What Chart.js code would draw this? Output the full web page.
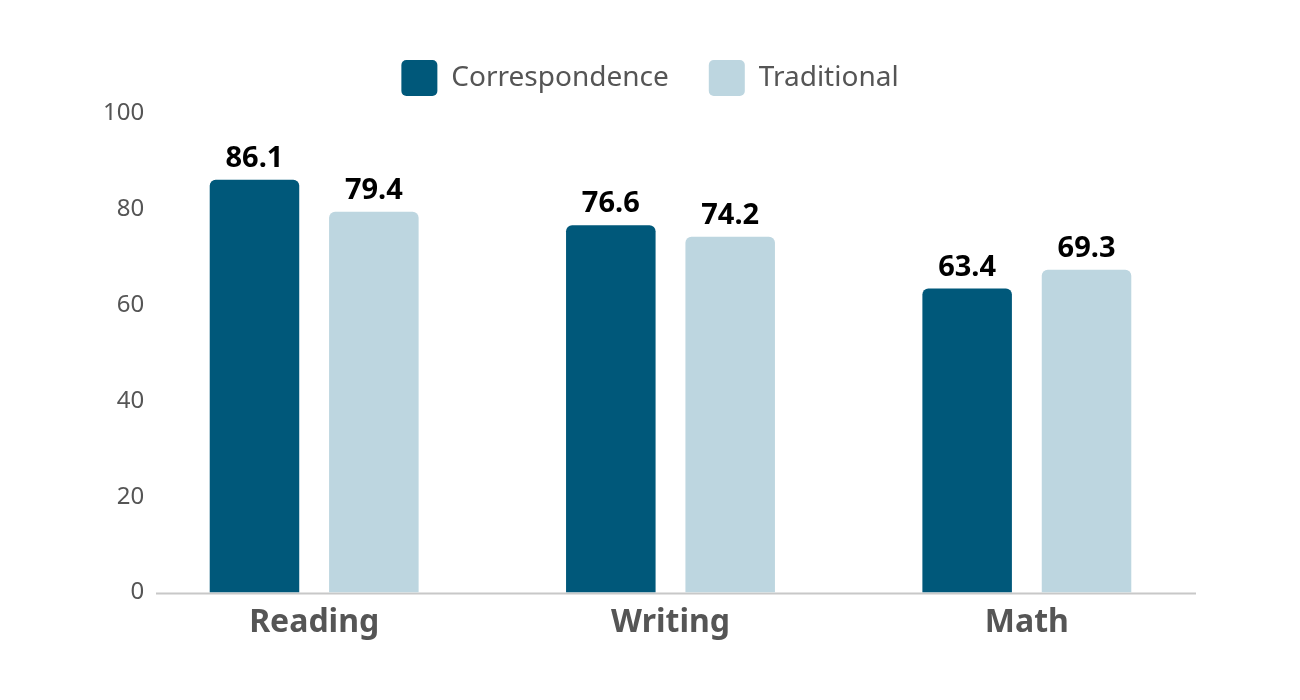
<!DOCTYPE html>
<html>
<head>
<meta charset="utf-8">
<script src="https://cdn.jsdelivr.net/npm/chart.js@4.4.0/dist/chart.umd.min.js"></script>
<style>
  body { margin: 0; background: #fff; }
  #wrap { width: 1300px; height: 700px; }
</style>
</head>
<body>
<div id="wrap"><canvas id="chart"></canvas></div>
<script>
// data
const categories = ['Reading', 'Writing', 'Math'];
const correspondence = [86.1, 76.6, 63.4];
const traditional = [79.4, 74.2, 67.3];
const correspondenceLabels = ['86.1', '76.6', '63.4'];
const traditionalLabels = ['79.4', '74.2', '69.3'];

const darkBlue = 'rgb(0, 88, 122)';
const lightBlue = 'rgb(189, 214, 224)';
const grey = '#555555';

// value labels above each bar
const valueLabels = {
  id: 'valueLabels',
  afterDatasetsDraw(chart) {
    const ctx = chart.ctx;
    const texts = [correspondenceLabels, traditionalLabels];
    ctx.save();
    ctx.font = 'bold 29px "Noto Sans"';
    ctx.fillStyle = '#000';
    ctx.textAlign = 'center';
    ctx.textBaseline = 'alphabetic';
    chart.data.datasets.forEach((ds, i) => {
      chart.getDatasetMeta(i).data.forEach((bar, j) => {
        ctx.fillText(texts[i][j], bar.x, bar.y - 13);
      });
    });
    ctx.restore();
  }
};

// baseline under the bars
const baseline = {
  id: 'baseline',
  beforeDatasetsDraw(chart) {
    const ctx = chart.ctx;
    const y = chart.scales.y.getPixelForValue(0);
    const a = chart.chartArea;
    ctx.save();
    ctx.strokeStyle = 'rgb(200, 200, 200)';
    ctx.lineWidth = 2;
    ctx.beginPath();
    ctx.moveTo(a.left + 20, y + 1);
    ctx.lineTo(a.right - 9, y + 1);
    ctx.stroke();
    ctx.restore();
  }
};

// a bit more room under the legend
const legendHeight = {
  id: 'legendHeight',
  beforeInit(chart) {
    const fit = chart.legend.fit;
    chart.legend.fit = function () {
      fit.bind(chart.legend)();
      this.height += 7;
    };
  }
};

const ctx = document.getElementById('chart').getContext('2d');
new Chart(ctx, {
  type: 'bar',
  data: {
    labels: categories,
    datasets: [
      {
        label: 'Correspondence',
        data: correspondence,
        backgroundColor: darkBlue,
        borderRadius: 6,
        categoryPercentage: 0.67,
        barPercentage: 0.75
      },
      {
        label: 'Traditional',
        data: traditional,
        backgroundColor: lightBlue,
        borderRadius: 6,
        categoryPercentage: 0.67,
        barPercentage: 0.75
      }
    ]
  },
  options: {
    responsive: true,
    maintainAspectRatio: false,
    animation: false,
    layout: { padding: { top: 20, left: 95, right: 95, bottom: 47 } },
    plugins: {
      legend: {
        position: 'top',
        labels: {
          boxWidth: 36,
          boxHeight: 36,
          padding: 40,
          useBorderRadius: true,
          borderRadius: 5,
          color: grey,
          font: { family: 'Noto Sans', size: 28 }
        }
      },
      tooltip: { enabled: false }
    },
    scales: {
      x: {
        grid: { display: false, drawTicks: false },
        border: { display: false },
        ticks: {
          color: grey,
          padding: 11,
          font: { family: 'Noto Sans', size: 32, weight: 'bold' }
        }
      },
      y: {
        min: 0,
        max: 100,
        grid: { display: false, drawTicks: false },
        border: { display: false },
        afterFit(scale) { scale.width = 41; },
        ticks: {
          stepSize: 20,
          color: grey,
          mirror: true,
          crossAlign: 'far',
          padding: -33,
          font: { family: 'Noto Sans', size: 24 }
        }
      }
    }
  },
  plugins: [valueLabels, baseline, legendHeight]
});
</script>
</body>
</html>
